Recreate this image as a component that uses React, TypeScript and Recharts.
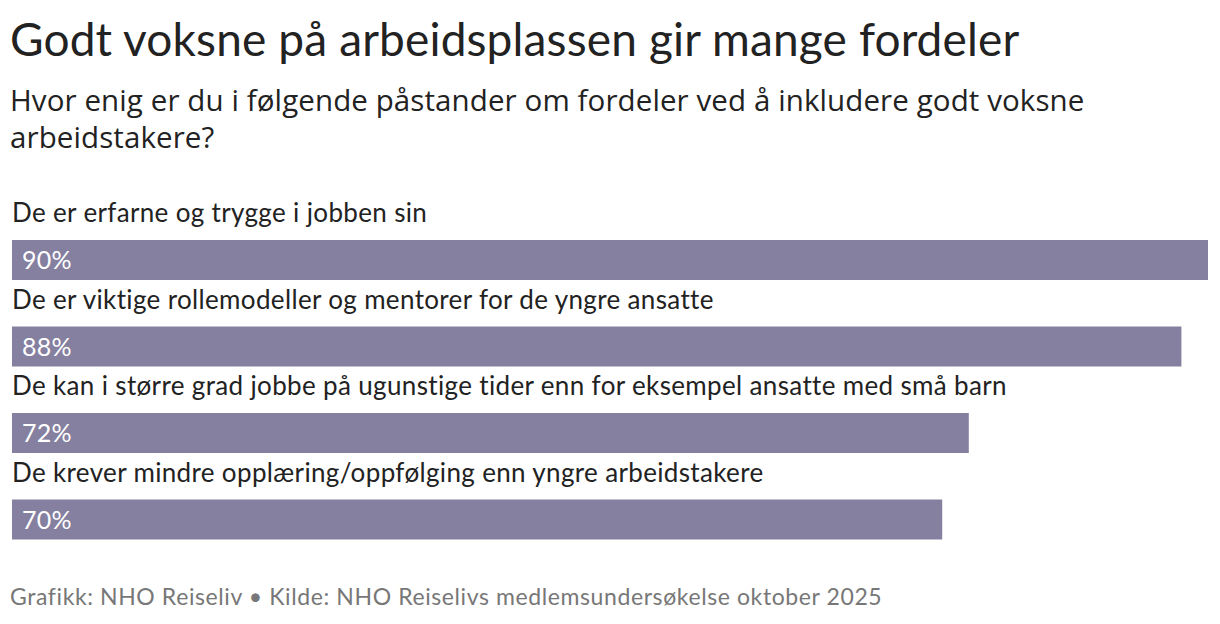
import React from "react";
import { BarChart, Bar, XAxis, YAxis, LabelList } from "recharts";

const categories = [
  "De er erfarne og trygge i jobben sin",
  "De er viktige rollemodeller og mentorer for de yngre ansatte",
  "De kan i større grad jobbe på ugunstige tider enn for eksempel ansatte med små barn",
  "De krever mindre opplæring/oppfølging enn yngre arbeidstakere",
];
const values = [90, 88, 72, 70];

const data = categories.map((name, i) => ({ name, value: values[i] }));

const BAR_COLOR = "#8580a0";
const FONT = "Lato, 'Open Sans', sans-serif";

const BarLabel = (props: any) => {
  const { x, y, height, value, index } = props;
  return (
    <g>
      <text x={x} y={y - 18} fontSize={26} letterSpacing={0.35} fill="#222" fontFamily={FONT}>
        {categories[index]}
      </text>
      <text x={x + 10} y={y + height / 2 + 9} fontSize={25} letterSpacing={0.3} fill="#fff" fontFamily={FONT}>
        {value}%
      </text>
    </g>
  );
};

const App: React.FC = () => {
  return (
    <div style={{ position: "absolute", left: 0, top: 0, width: 1220, height: 624, background: "#fff" }}>
      <div
        style={{
          position: "absolute",
          left: 10,
          top: 10,
          fontFamily: FONT,
          fontSize: 46,
          letterSpacing: 0.15,
          color: "#222",
          whiteSpace: "nowrap",
          lineHeight: "58px",
        }}
      >
        Godt voksne på arbeidsplassen gir mange fordeler
      </div>
      <div
        style={{
          position: "absolute",
          left: 10,
          top: 81,
          width: 1180,
          fontFamily: "'Open Sans', 'Noto Sans', sans-serif",
          fontSize: 29.5,
          letterSpacing: 0.1,
          color: "#222",
          lineHeight: "37px",
          whiteSpace: "nowrap",
        }}
      >
        Hvor enig er du i følgende påstander om fordeler ved å inkludere godt voksne
        <br />
        arbeidstakere?
      </div>
      <div style={{ position: "absolute", left: 0, top: 0 }}>
        <BarChart
          width={1220}
          height={624}
          data={data}
          layout="vertical"
          margin={{ top: 217, right: 12, left: 12, bottom: 61 }}
        >
          <XAxis type="number" domain={[0, 90]} hide />
          <YAxis type="category" dataKey="name" hide />
          <Bar dataKey="value" fill={BAR_COLOR} barSize={40} isAnimationActive={false}>
            <LabelList dataKey="value" content={<BarLabel />} />
          </Bar>
        </BarChart>
      </div>
      <div
        style={{
          position: "absolute",
          left: 10,
          top: 581,
          fontFamily: FONT,
          fontSize: 23,
          letterSpacing: 0.6,
          color: "#777",
          whiteSpace: "nowrap",
          lineHeight: "30px",
        }}
      >
        Grafikk: NHO Reiseliv • Kilde: NHO Reiselivs medlemsundersøkelse oktober 2025
      </div>
    </div>
  );
};

export default App;
